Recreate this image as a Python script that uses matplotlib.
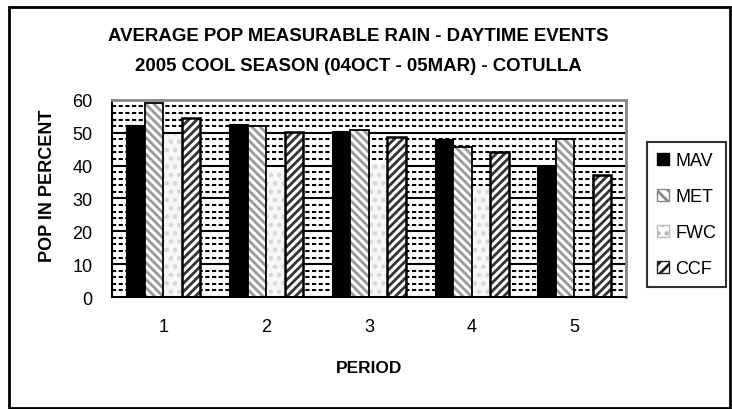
import matplotlib
matplotlib.use("Agg")
import matplotlib.pyplot as plt
import numpy as np
from matplotlib.patches import Patch, Rectangle

plt.rcParams['font.family'] = ['Liberation Sans', 'DejaVu Sans']
plt.rcParams['hatch.linewidth'] = 2.0

# data
periods = ['1', '2', '3', '4', '5']
mav = [52.2, 52.7, 50.4, 48.2, 39.8]
met = [59.0, 51.9, 50.9, 45.6, 48.2]
fwc = [49.7, 38.5, 40.9, 33.4, 0.0]
ccf = [54.5, 50.2, 48.7, 44.1, 37.2]
series_names = ['MAV', 'MET', 'FWC', 'CCF']

fig = plt.figure(figsize=(7.32, 4.10), dpi=100)
ax = fig.add_axes([0.153, 0.273, 0.702, 0.481])

x = np.arange(len(periods))
w = 0.18
offsets = [-1.5 * w, -0.5 * w, 0.5 * w, 1.5 * w]

# grid: solid at every 10, dashed every 2
ax.set_ylim(0, 60)
ax.set_xlim(-0.5, 4.5)
for v in np.arange(2, 60, 2):
    if v % 10 == 0:
        ax.axhline(v, color='black', lw=1.5, zorder=0)
    else:
        ax.axhline(v, color='black', lw=1.5, ls=(0, (2, 1.2)), zorder=0)

# MAV solid black
ax.bar(x + offsets[0], mav, w, color='black', edgecolor='black', lw=0.8, zorder=2)
# MET gray diagonal
ax.bar(x + offsets[1], met, w, color='white', edgecolor='#9a9a9a', hatch='\\\\\\\\', lw=0, zorder=2)
ax.bar(x + offsets[1], met, w, fill=False, edgecolor='black', lw=1.3, zorder=3)
# FWC light dots
ax.bar(x + offsets[2], fwc, w, color='#f7f7f7', edgecolor='#d8d8d8', hatch='..', lw=0, zorder=2)
# CCF dark diagonal
ax.bar(x + offsets[3], ccf, w, color='white', edgecolor='#333333', hatch='////', lw=0, zorder=2)
ax.bar(x + offsets[3], ccf, w, fill=False, edgecolor='black', lw=1.8, zorder=3)

ax.set_xticks(x)
ax.set_xticklabels(periods)
ax.set_yticks(np.arange(0, 61, 10))
ax.tick_params(axis='both', length=0, labelsize=13)
ax.tick_params(axis='y', pad=14)
ax.tick_params(axis='x', pad=15)

for s in ['top', 'right']:
    ax.spines[s].set_color('#888888')
    ax.spines[s].set_linewidth(2)
for s in ['left', 'bottom']:
    ax.spines[s].set_color('black')
    ax.spines[s].set_linewidth(1.5)

ax.set_xlabel('PERIOD', fontsize=12.5, fontweight='bold', labelpad=18)
ax.set_ylabel('POP IN PERCENT', fontsize=13, fontweight='bold')
ax.yaxis.set_label_coords(-0.108, 0.57)

fig.text(0.49, 0.911, 'AVERAGE POP MEASURABLE RAIN - DAYTIME EVENTS',
         ha='center', va='center', fontsize=13.4, fontweight='bold')
fig.text(0.49, 0.838, '2005 COOL SEASON (04OCT - 05MAR) - COTULLA',
         ha='center', va='center', fontsize=13.4, fontweight='bold')

handles = [
    Patch(facecolor='black', edgecolor='black'),
    Patch(facecolor='white', edgecolor='#888888', hatch='\\\\\\'),
    Patch(facecolor='white', edgecolor='#bbbbbb', hatch='..'),
    Patch(facecolor='white', edgecolor='#222222', hatch='///'),
]
leg = fig.legend(handles, series_names, loc='upper left', bbox_to_anchor=(0.884, 0.651),
                 fontsize=13, frameon=True, fancybox=False, edgecolor='black',
                 handlelength=0.65, handleheight=0.65, handletextpad=0.35,
                 labelspacing=1.05, borderpad=0.55, borderaxespad=0)
leg.get_frame().set_linewidth(1.5)

# outer border
fig.patches.append(Rectangle((0.012, 0.003), 0.985, 0.977, transform=fig.transFigure,
                             fill=False, edgecolor='black', lw=2))

fig.savefig('out.png', dpi=100)
